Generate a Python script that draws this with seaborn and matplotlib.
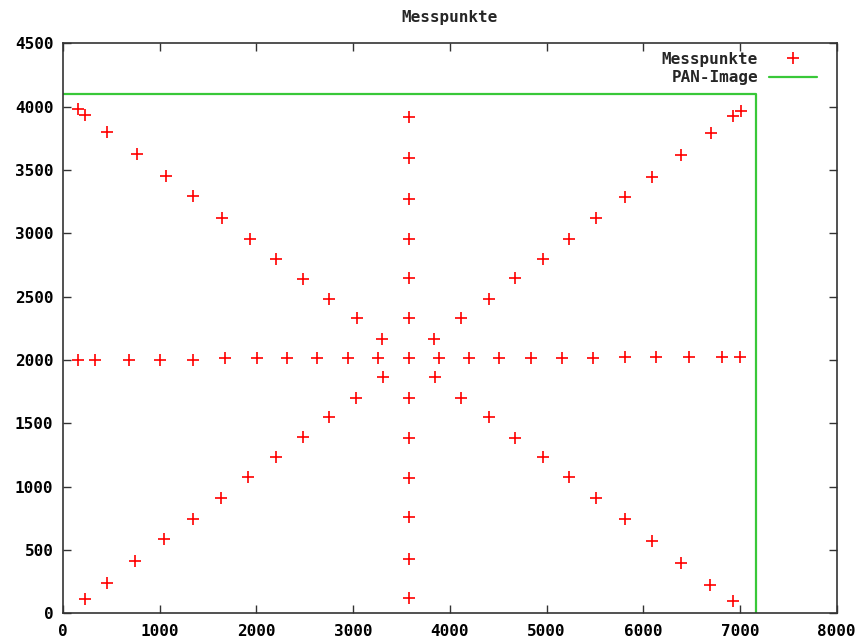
import matplotlib
matplotlib.use('Agg')
import matplotlib.pyplot as plt
import seaborn as sns
import pandas as pd
from matplotlib.lines import Line2D

# measurement points, grouped by the star arm they belong to
diag_down_x = [152, 231, 452, 766, 1063, 1349, 1646, 1929, 2198, 2481, 2754, 3040, 3302]
diag_down_y = [3978, 3931, 3801, 3627, 3454, 3291, 3118, 2954, 2794, 2641, 2478, 2328, 2165]

col_x = [3579] * 13
col_y = [3920, 3596, 3270, 2954, 2644, 2328, 2013, 1697, 1386, 1070, 758, 431, 118]

row_x = [155, 328, 683, 1007, 1349, 1677, 2001, 2316, 2626, 2950, 3261,
         3892, 4203, 4513, 4842, 5155, 5479, 5807, 6135, 6477, 6815, 7001]
row_y = [2002, 2002, 2002, 2002, 2002, 2012, 2012, 2012, 2012, 2012, 2012,
         2012, 2012, 2012, 2012, 2012, 2012, 2025, 2025, 2025, 2025, 2025]

diag_up_x = [231, 452, 749, 1049, 1349, 1632, 1915, 2198, 2481, 2754, 3026, 3313]
diag_up_y = [110, 237, 410, 584, 744, 908, 1073, 1236, 1394, 1547, 1697, 1863]

ur_x = [3841, 4117, 4403, 4672, 4959, 5228, 5511, 5807, 6090, 6390, 6705, 6929, 7015]
ur_y = [2165, 2328, 2481, 2644, 2796, 2957, 3120, 3283, 3446, 3620, 3791, 3923, 3967]

lr_x = [3851, 4117, 4403, 4672, 4959, 5228, 5511, 5807, 6090, 6390, 6687, 6929]
lr_y = [1863, 1699, 1549, 1386, 1236, 1073, 910, 747, 573, 399, 226, 97]

# outline of the PAN image
pan_x = [0, 7168, 7168]
pan_y = [4096, 4096, 0]

pts = pd.DataFrame({
    'x': diag_down_x + col_x + row_x + diag_up_x + ur_x + lr_x,
    'y': diag_down_y + col_y + row_y + diag_up_y + ur_y + lr_y,
})
pan = pd.DataFrame({'x': pan_x, 'y': pan_y})

sns.set_style('ticks')
plt.rcParams['font.family'] = ['DejaVu Sans Mono']
plt.rcParams['font.weight'] = 'bold'

fig = plt.figure(figsize=(8.62, 6.4), dpi=100)
ax = fig.add_axes([0.0731, 0.0417, 0.8975, 0.8906])

red = '#ff0000'
green = '#38c838'
fs = 11.5

sns.scatterplot(data=pts, x='x', y='y', marker='+', s=64, color=red,
                linewidth=1.2, ax=ax)
sns.lineplot(data=pan, x='x', y='y', sort=False, estimator=None,
             color=green, linewidth=1.6, ax=ax)

ax.set_xlim(0, 8000)
ax.set_ylim(0, 4500)
ax.set_xticks(range(0, 8001, 1000))
ax.set_yticks(range(0, 4501, 500))
ax.set_xlabel('')
ax.set_ylabel('')
ax.tick_params(direction='in', top=True, right=True, length=6, width=1,
               labelsize=fs, colors='#333333', labelcolor='black')
ax.tick_params(axis='x', pad=8)
ax.tick_params(axis='y', pad=7)
for lbl in ax.get_xticklabels() + ax.get_yticklabels():
    lbl.set_fontweight('bold')
for sp in ax.spines.values():
    sp.set_color('#333333')
    sp.set_linewidth(1.2)

ax.set_title('Messpunkte', fontsize=fs, fontweight='bold', pad=15)

handles = [
    Line2D([], [], marker='+', linestyle='none', color=red, markersize=8, markeredgewidth=1.2),
    Line2D([], [], color=green, linewidth=1.6),
]
ax.legend(handles, ['Messpunkte', 'PAN-Image'], loc='upper right',
          bbox_to_anchor=(0.983, 0.996), borderaxespad=0,
          frameon=False, markerfirst=False, handlelength=3.0,
          handletextpad=0.7, labelspacing=0.2,
          prop={'weight': 'bold', 'size': fs, 'family': 'DejaVu Sans Mono'})

fig.savefig('out.png', dpi=100)
